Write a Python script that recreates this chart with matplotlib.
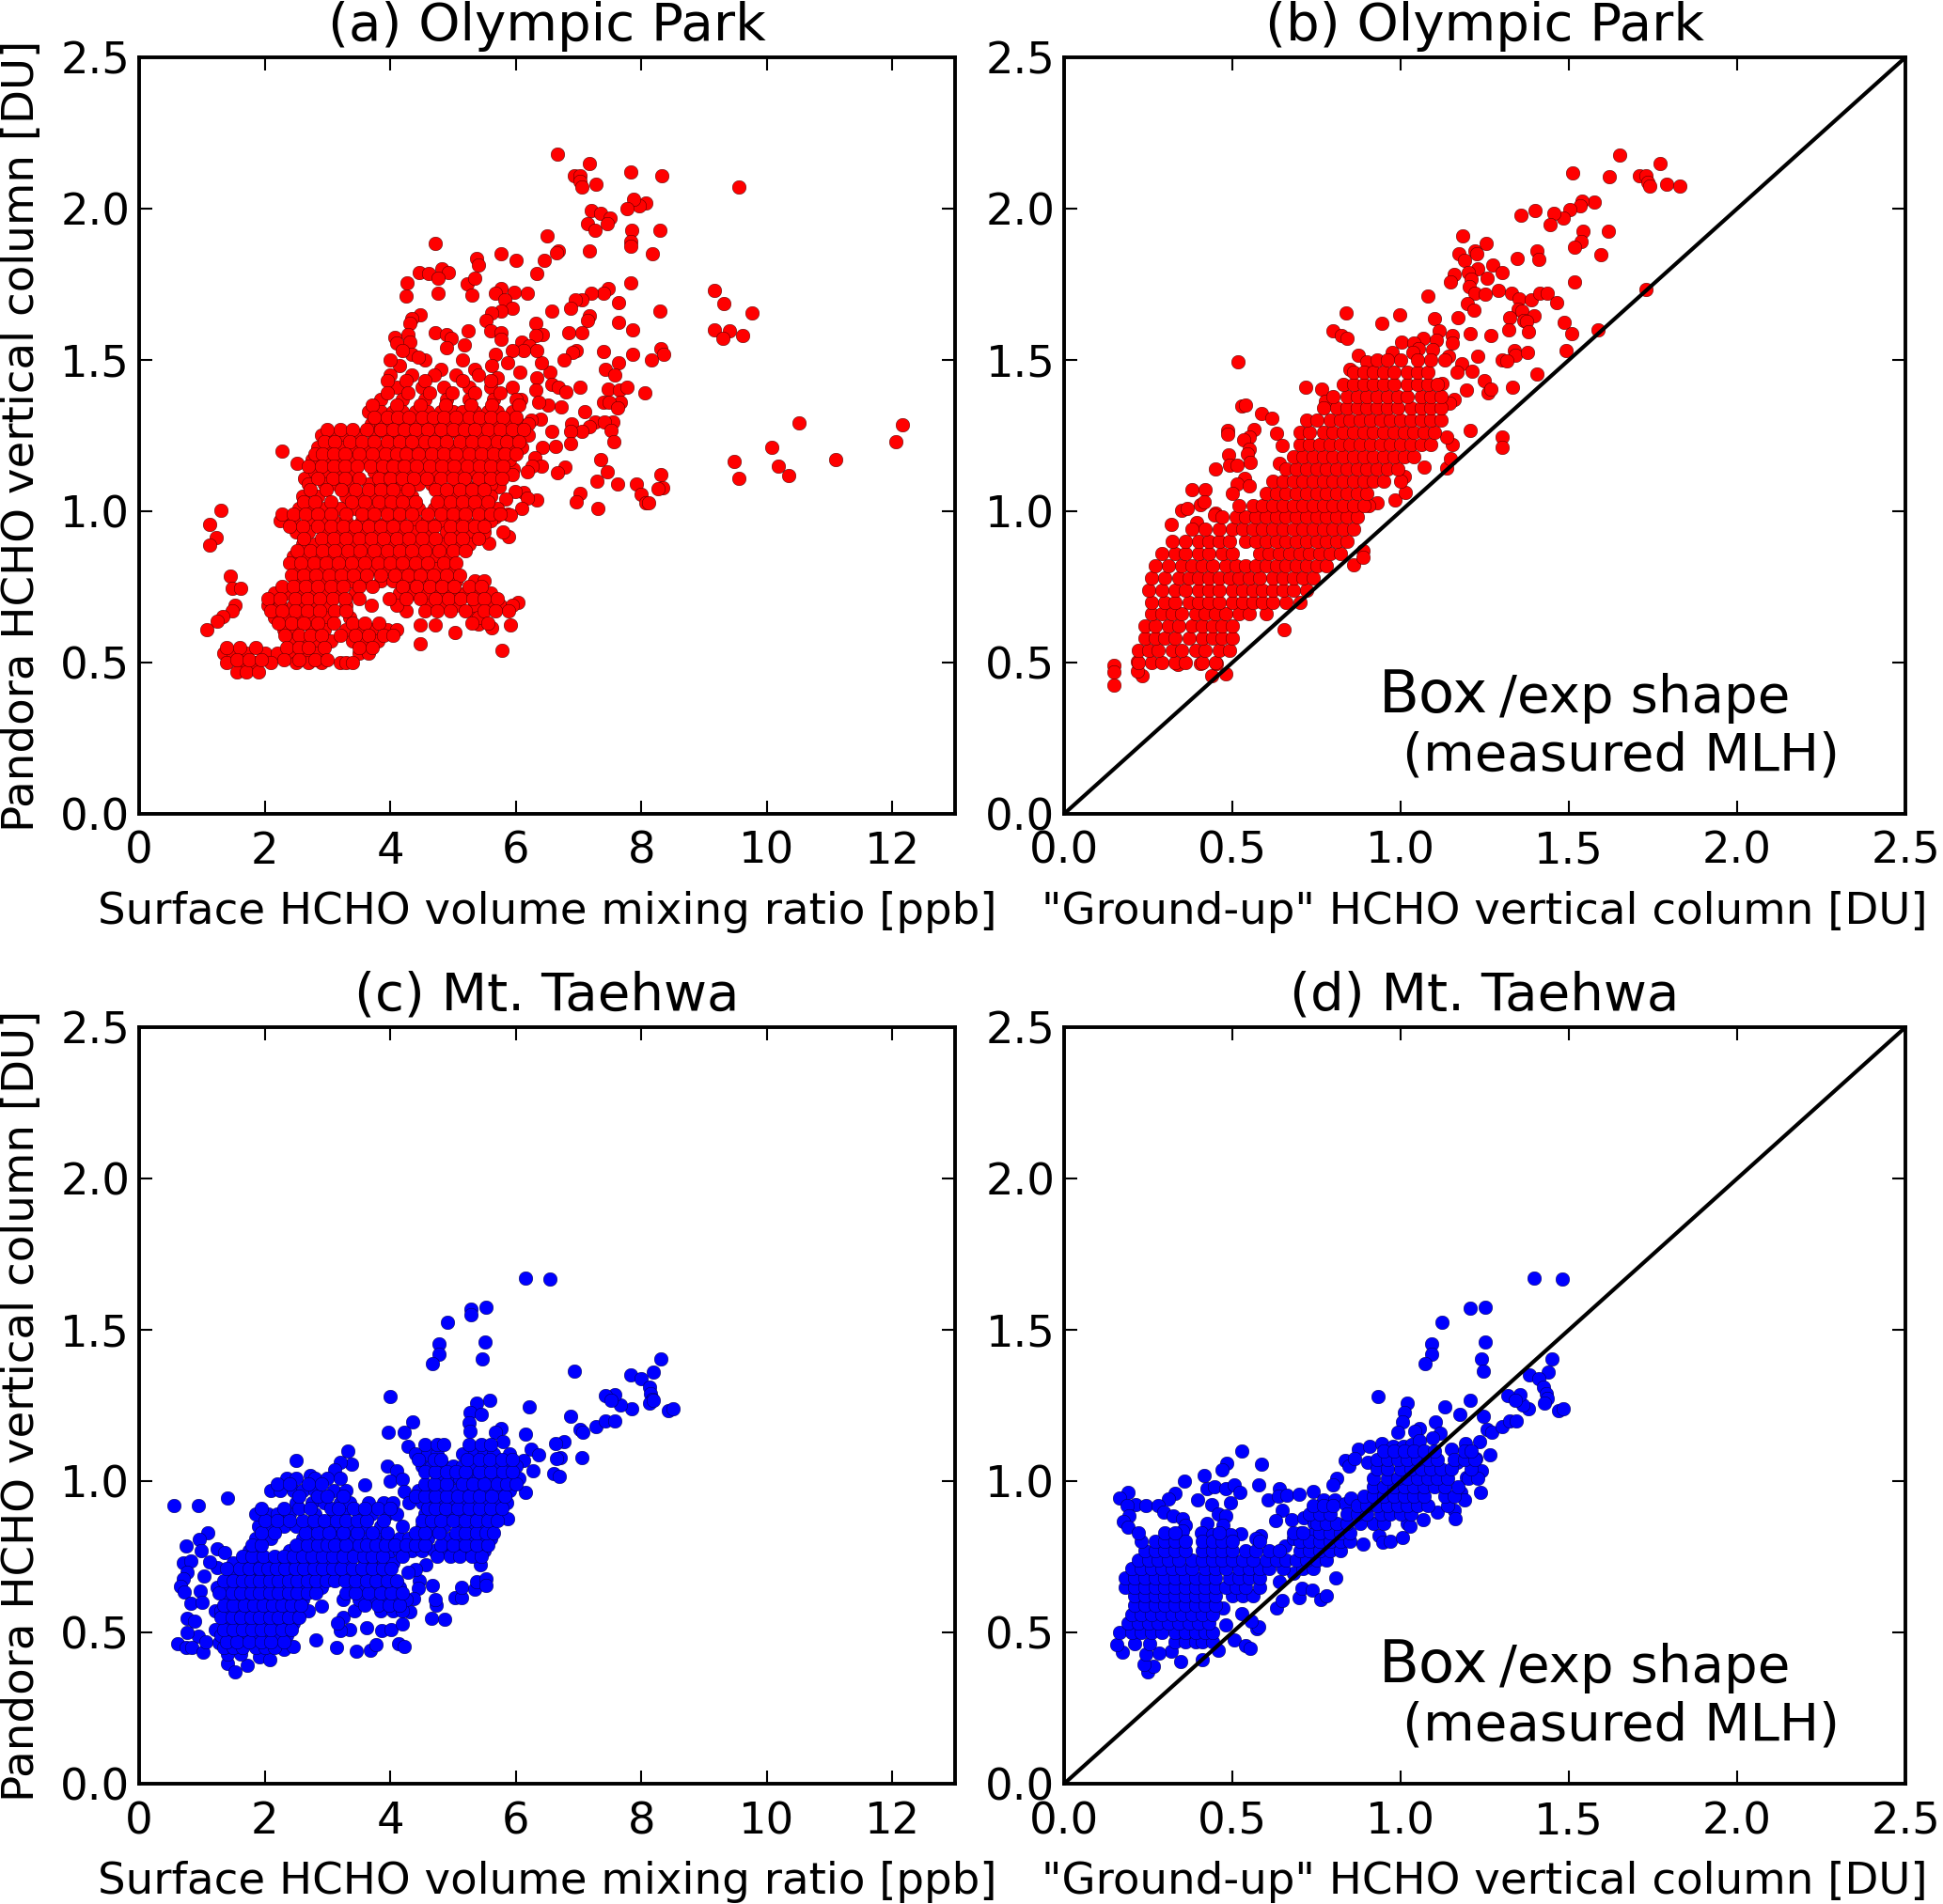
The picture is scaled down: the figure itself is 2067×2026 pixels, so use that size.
import numpy as np
import matplotlib
matplotlib.use("Agg")
import matplotlib.pyplot as plt

# values: loose points as (x, y), packed parts as rows (y, [x...])
a_loose = [(6.66,2.18),(7.18,2.15),(6.94,2.11),(7.03,2.11),(7.02,2.09),(7.05,2.07),(7.28,2.08),(7.83,2.12),(8.32,2.11),(9.56,2.07),
(8.07,2.02),(7.96,2.01),(7.87,2.03),(7.77,2.0),(7.21,1.995),(7.35,1.985),(7.5,1.97),(7.14,1.95),(7.26,1.93),(7.45,1.95),
(7.84,1.93),(8.3,1.93),(7.83,1.89),(7.83,1.875),(6.5,1.91),(6.68,1.86),(6.65,1.855),(7.17,1.86),(8.18,1.85),(4.72,1.885),
(5.38,1.835),(5.41,1.815),(5.77,1.85),(6.0,1.83),(6.45,1.83),(6.33,1.785),(7.83,1.755),(4.46,1.79),(4.61,1.785),(4.82,1.80),
(4.92,1.79),(4.76,1.77),(4.27,1.755),(4.25,1.71),(4.76,1.72),(5.23,1.75),(5.34,1.77),(5.3,1.715),(5.76,1.735),(5.67,1.72),
(5.98,1.725),(6.19,1.72),(5.82,1.70),(7.47,1.735),(7.4,1.72),(7.21,1.72),(7.06,1.70),(6.95,1.70),(7.64,1.69),(6.87,1.67),
(6.57,1.66),(8.3,1.66),(5.94,1.67),(5.76,1.66),(5.61,1.655),(9.16,1.73),(9.31,1.685),(9.76,1.655),(9.17,1.60),(9.41,1.595),
(9.3,1.57),(9.62,1.58),(4.47,1.65),(4.35,1.635),(4.32,1.62),(5.52,1.63),(7.18,1.645),(7.15,1.63),(7.63,1.625),(6.32,1.62),
(7.86,1.60),(6.85,1.59),(7.06,1.59),(6.43,1.585),(6.32,1.58),(5.6,1.595),(5.24,1.597),(5.77,1.59),(4.71,1.59),(4.89,1.585),
(4.97,1.57),(4.89,1.54),(5.18,1.55),(4.28,1.585),(4.08,1.575),(4.31,1.56),(4.11,1.555),(5.76,1.567),(6.1,1.56),(6.22,1.547),
(8.31,1.537),(8.36,1.517),(8.16,1.5),(7.86,1.517),(7.39,1.527),(6.96,1.53),(6.9,1.525),(6.77,1.5),(7.63,1.49),(7.42,1.47),
(7.57,1.45),(6.55,1.46),(6.41,1.49),(6.33,1.53),(6.12,1.53),(5.94,1.532),(5.67,1.52),(5.62,1.48),(5.87,1.49),(6.07,1.46),
(6.34,1.44),(6.32,1.40),(6.57,1.42),(6.68,1.41),(6.8,1.395),(7.03,1.41),(7.47,1.405),(7.65,1.40),(7.77,1.41),(8.06,1.39),
(7.67,1.36),(7.39,1.36),(7.48,1.36),(7.62,1.34),(7.1,1.33),(6.72,1.345),(6.52,1.35),(6.36,1.36),(6.08,1.37),(7.27,1.295),
(7.54,1.295),(7.41,1.295),(6.89,1.29),(7.17,1.28),(7.06,1.265),(6.87,1.263),(7.51,1.268),(7.56,1.23),(6.87,1.223),(6.58,1.265),
(6.64,1.215),(6.42,1.21),(6.39,1.305),(6.25,1.30),(10.51,1.293),(12.16,1.286),(12.06,1.23),(10.08,1.21),(9.48,1.165),(10.19,1.148),
(11.09,1.17),(10.34,1.118),(9.55,1.108),(7.36,1.17),(7.46,1.13),(7.29,1.10),(7.62,1.09),(7.92,1.09),(8.31,1.12),(8.34,1.077),
(8.26,1.075),(7.99,1.055),(7.03,1.06),(6.96,1.03),(8.07,1.027),(8.12,1.027),(7.31,1.01),(6.79,1.146),(6.67,1.128),(6.31,1.176),
(6.41,1.15),(6.26,1.148),(6.18,1.13),(5.96,1.14),(5.94,1.12),(6.34,1.037),(6.13,1.063),(5.99,1.065),(6.19,1.043),(6.09,1.01),
(5.84,1.04),(5.73,1.08),(5.87,0.99),(5.92,0.987),(5.67,0.98),(5.88,0.915),(5.8,0.93),(5.57,0.893),(5.29,0.93),
(1.3,1.003),(1.13,0.957),(1.23,0.912),(1.12,0.888),(2.28,1.2),(2.51,1.158),(2.63,1.11),(1.46,0.784),(1.48,0.745),(1.62,0.745),
(1.53,0.69),(1.49,0.672),(1.34,0.652),(1.24,0.635),(1.08,0.607),(5.78,0.54),(5.03,0.60),(4.72,0.624),(4.48,0.624),(4.48,0.562),
(4.25,0.67),(6.03,0.697),(5.91,0.624),(5.62,0.615),(5.41,0.627),(5.38,0.654),
(4.15,1.48),(4.55,1.5),(4.0,1.5),(5.15,1.5),(5.35,1.47),(4.8,1.47),(5.7,1.44),(4.35,1.52),(4.2,1.53),(4.45,1.51)]

a_rows = [(1.45,[4.0,4.35,4.7,5.05,5.4]),
(1.41,[4.1,4.5,4.85,5.25,5.6,5.95]),
(1.37,[3.85,4.2,4.55,4.9,5.25,5.65,6.0]),
(1.33,[3.65,3.85,4.05,4.2,4.4,4.6,4.8,5.0,5.15,5.35,5.55,5.7,5.95]),
(1.29,[3.7,3.85,4.0,4.2,4.4,4.55,4.75,4.95,5.15,5.3,5.5,5.7,5.9,6.05,6.2]),
(1.25,[2.9,3.1,3.3,3.5,3.75,3.95,4.15,4.3,4.5,4.7,4.9,5.1,5.25,5.45,5.65,5.85,6.05,6.2]),
(1.21,[2.85,3.05,3.2,3.45,3.65,3.85,4.05,4.25,4.45,4.6,4.8,5.0,5.2,5.4,5.6,5.75,5.95,6.1]),
(1.17,[2.75,3.0,3.15,3.35,3.55,3.8,4.0,4.15,4.35,4.55,4.75,4.95,5.15,5.35,5.5,5.75,5.9]),
(1.13,[2.8,3.0,3.2,3.4,3.75,3.9,4.1,4.3,4.5,4.7,4.9,5.1,5.3,5.5,5.7]),
(1.09,[2.7,2.95,3.15,3.35,3.65,3.85,4.05,4.2,4.45,4.65,5.05,5.2,5.4,5.6]),
(1.05,[2.6,2.85,3.3,3.55,3.75,3.95,4.15,4.35,4.8,5.0,5.2,5.4,5.6]),
(1.01,[2.55,2.75,2.95,3.2,3.45,3.65,3.85,4.05,4.25,4.45,4.7,4.9,5.1,5.3,5.5,5.7]),
(0.97,[2.25,2.45,2.7,2.9,3.1,3.3,3.55,3.75,3.95,4.15,4.4,4.6,4.8,5.0,5.2,5.4,5.6]),
(0.93,[2.5,2.7,3.0,3.2,3.4,3.6,3.8,4.0,4.2,4.4,4.6,4.9,5.1,5.3,5.5]),
(0.89,[2.6,2.8,3.0,3.2,3.4,3.6,3.8,4.0,4.2,4.4,4.6,4.85,5.05,5.25]),
(0.85,[2.45,2.65,2.85,3.05,3.25,3.45,3.7,3.9,4.1,4.3,4.5,4.7,4.95]),
(0.81,[2.5,2.7,2.9,3.1,3.3,3.5,3.7,3.95,4.15,4.35,4.55,4.75,5.0]),
(0.77,[2.55,2.75,2.95,3.15,3.35,3.6,3.85,4.05,4.25,4.45,4.65,4.85,5.05,5.35,5.5]),
(0.73,[2.15,2.35,2.55,2.75,2.95,3.15,3.45,4.15,4.35,4.6,4.8,5.0,5.2,5.4,5.6]),
(0.69,[2.05,2.25,2.45,2.65,2.85,3.0,3.3,3.7,4.1,4.6,4.85,5.05,5.35,5.6,5.75,5.95]),
(0.65,[2.15,2.35,2.55,2.75,2.95,3.35,5.4]),
(0.61,[2.3,2.5,2.75,2.95,3.3,3.5,3.7,3.95,4.1]),
(0.57,[2.4,2.6,2.8,3.05,3.4,3.6,3.8]),
(0.53,[1.35,1.5,1.7,2.0,2.2,2.45,2.65,2.85,3.5,3.65]),
(0.50,[1.4,1.6,1.85,2.1,2.5,2.7,2.9,3.2,3.3,3.4]),
(0.47,[1.55,1.7,1.9])]

# rows between the rows above, the blob is more solid than one set of rows gives
a_between = [(1.43,[3.95,4.25,4.55,5.15,5.6]),
(1.39,[3.95,4.28,4.62,4.98,5.35,5.75]),
(1.35,[3.72,4.1,4.48,4.88,5.28,5.62,6.05]),
(1.31,[3.75,3.95,4.12,4.3,4.5,4.68,4.85,5.05,5.25,5.42,5.6,5.8,6.0]),
(1.27,[3.0,3.2,3.4,3.62,3.85,4.05,4.22,4.4,4.6,4.8,5.0,5.18,5.35,5.55,5.75,5.95,6.12]),
(1.23,[2.95,3.12,3.35,3.55,3.75,3.95,4.15,4.35,4.55,4.7,4.9,5.1,5.3,5.5,5.7,5.85,6.05]),
(1.19,[2.8,2.92,3.1,3.28,3.5,3.72,3.92,4.1,4.25,4.45,4.65,4.85,5.05,5.25,5.45,5.65,5.82,6.0]),
(1.15,[2.7,2.9,3.1,3.28,3.48,3.68,3.88,4.05,4.22,4.42,4.62,4.82,5.02,5.22,5.42,5.6,5.8]),
(1.11,[2.85,3.08,3.28,3.5,3.82,4.0,4.2,4.38,4.58,4.8,5.0,5.18,5.4,5.6,5.78]),
(1.07,[2.72,2.98,3.22,3.45,3.65,3.85,4.05,4.28,4.72,4.9,5.1,5.3,5.5]),
(1.03,[2.62,2.8,3.05,3.38,3.6,3.82,4.02,4.2,4.4,4.75,4.95,5.15,5.35,5.55]),
(0.99,[2.28,2.45,2.65,2.85,3.05,3.3,3.55,3.75,3.95,4.15,4.35,4.6,4.8,5.0,5.2,5.4,5.6,5.75]),
(0.95,[2.4,2.6,2.85,3.05,3.25,3.45,3.65,3.85,4.05,4.25,4.5,4.7,4.95,5.15,5.35,5.5]),
(0.91,[2.62,2.9,3.1,3.3,3.5,3.7,3.9,4.1,4.3,4.5,4.72,4.95,5.15,5.4]),
(0.87,[2.52,2.72,2.92,3.12,3.32,3.52,3.75,3.95,4.15,4.35,4.55,4.78,5.0,5.2]),
(0.83,[2.4,2.58,2.78,2.98,3.18,3.38,3.6,3.8,4.0,4.2,4.4,4.6,4.85,5.05]),
(0.79,[2.42,2.62,2.82,3.02,3.22,3.42,3.62,3.85,4.08,4.28,4.48,4.68,4.9,5.1]),
(0.75,[2.28,2.45,2.65,2.85,3.05,3.25,3.5,3.72,4.2,4.42,4.62,4.82,5.02,5.25,5.45]),
(0.71,[2.05,2.25,2.48,2.68,2.88,3.08,3.28,3.5,3.98,4.25,4.48,4.72,4.92,5.12,5.32,5.5,5.7]),
(0.67,[2.1,2.28,2.48,2.68,2.88,3.12,3.3,4.55,4.75,4.95,5.2,5.5,5.68,5.88]),
(0.63,[2.22,2.42,2.62,2.85,3.1,3.4,3.6,3.82,5.3,5.55]),
(0.59,[2.32,2.55,2.72,2.9,3.2,3.45,3.65,3.9,4.05]),
(0.55,[1.4,1.6,1.85,2.35,2.55,2.7,2.95,3.5,3.72]),
(0.51,[1.55,1.75,1.95,2.3,2.55,2.8,3.0])]

b_loose = [(1.65,2.177),(1.77,2.148),(1.51,2.118),(1.62,2.107),(1.71,2.11),(1.73,2.108),(1.734,2.087),(1.74,2.073),(1.79,2.08),(1.83,2.073),
(1.575,2.023),(1.538,2.025),(1.533,2.01),(1.503,1.998),(1.482,1.97),(1.454,1.985),(1.444,1.946),(1.4,1.995),(1.358,1.977),(1.542,1.925),
(1.618,1.925),(1.537,1.89),(1.516,1.873),(1.595,1.848),(1.185,1.91),(1.255,1.886),(1.22,1.86),(1.227,1.85),(1.173,1.85),(1.19,1.83),
(1.405,1.86),(1.41,1.832),(1.346,1.836),(1.273,1.815),(1.3,1.79),(1.229,1.80),(1.158,1.784),(1.2,1.788),(1.147,1.757),(1.21,1.766),
(1.257,1.77),(1.203,1.743),(1.516,1.757),(1.22,1.72),(1.25,1.717),(1.29,1.729),(1.33,1.72),(1.353,1.702),(1.387,1.70),(1.412,1.72),
(1.436,1.72),(1.464,1.69),(1.082,1.71),(1.198,1.685),(1.217,1.665),(1.73,1.734),(1.35,1.667),(1.36,1.66),(1.324,1.64),(1.395,1.645),
(1.366,1.63),(1.374,1.627),(1.485,1.624),(1.38,1.592),(1.32,1.6),(1.587,1.60),(1.507,1.586),(1.268,1.58),(1.206,1.586),(1.17,1.64),
(1.10,1.636),(0.997,1.65),(0.837,1.656),(0.943,1.62),(0.80,1.597),(0.825,1.58),(0.84,1.572),(1.114,1.597),(1.154,1.58),(1.003,1.558),
(1.067,1.572),(1.106,1.565),(1.152,1.556),(1.04,1.555),(1.052,1.538),(0.975,1.526),(1.036,1.526),(1.095,1.533),(1.142,1.512),(1.23,1.513),
(1.337,1.53),(1.34,1.515),(1.377,1.524),(1.49,1.53),(1.30,1.5),(1.314,1.497),(1.18,1.487),(1.168,1.458),(1.212,1.462),(1.404,1.453),
(1.248,1.431),(1.333,1.41),(1.196,1.40),(1.26,1.392),(1.268,1.403),(1.124,1.422),(1.158,1.37),(1.145,1.358),(0.516,1.495),(0.873,1.515),
(0.90,1.494),(0.848,1.47),(0.717,1.41),(0.765,1.403),(0.775,1.362),(0.528,1.348),(0.54,1.351),(0.585,1.323),(0.618,1.306),(0.485,1.266),
(0.485,1.253),(0.564,1.27),(0.55,1.244),(0.533,1.237),(0.63,1.257),(0.649,1.216),(0.55,1.205),(0.544,1.19),(0.489,1.185),(0.554,1.162),
(0.639,1.157),(0.492,1.153),(0.513,1.153),(0.45,1.139),(0.536,1.11),(0.515,1.089),(0.55,1.084),(0.38,1.07),(0.418,1.07),(0.50,1.06),
(0.405,1.021),(0.415,1.03),(0.35,1.004),(0.366,1.009),(0.45,0.995),(0.448,0.986),(0.394,0.964),(0.319,0.955),(0.652,0.608),(0.86,0.824),
(0.889,0.87),(0.889,0.847),(0.931,1.027),(0.904,1.02),(0.984,1.036),(1.013,1.062),(1.01,1.116),(1.07,1.146),(1.136,1.143),(1.147,1.173),
(1.206,1.266),(1.154,1.221),(1.137,1.244),(1.30,1.244),(1.30,1.21),(0.149,0.492),(0.149,0.47),(0.149,0.424),(0.438,0.456),(0.48,0.462),
(0.232,0.455),(0.219,0.472),(0.219,0.503),(0.338,0.494),(0.404,0.496),(0.453,0.496)]

b_rows = [(0.50,[0.22,0.26,0.29,0.33,0.36,0.41,0.45]),
(0.54,[0.22,0.25,0.28,0.32,0.35,0.39,0.42,0.46,0.49]),
(0.58,[0.24,0.27,0.30,0.33,0.37,0.41,0.44,0.47,0.50]),
(0.62,[0.24,0.27,0.31,0.34,0.38,0.41,0.44,0.47,0.50]),
(0.66,[0.26,0.29,0.32,0.35,0.39,0.42,0.45,0.48,0.52,0.55,0.60]),
(0.70,[0.26,0.30,0.33,0.37,0.40,0.43,0.46,0.50,0.53,0.56,0.59,0.62,0.66,0.70]),
(0.74,[0.25,0.29,0.33,0.36,0.40,0.43,0.46,0.50,0.53,0.56,0.59,0.62,0.65,0.68,0.72]),
(0.78,[0.26,0.30,0.34,0.37,0.40,0.43,0.46,0.49,0.52,0.55,0.58,0.62,0.65,0.68,0.71,0.74]),
(0.82,[0.27,0.31,0.35,0.38,0.41,0.44,0.48,0.51,0.54,0.57,0.60,0.63,0.66,0.69,0.72,0.75,0.78]),
(0.86,[0.29,0.33,0.36,0.40,0.43,0.47,0.50,0.58,0.61,0.64,0.67,0.70,0.73,0.76,0.79,0.82]),
(0.90,[0.32,0.36,0.40,0.43,0.46,0.49,0.54,0.57,0.60,0.63,0.66,0.69,0.72,0.75,0.78,0.81,0.84]),
(0.94,[0.38,0.42,0.46,0.50,0.53,0.56,0.59,0.62,0.65,0.68,0.71,0.74,0.77,0.80,0.83,0.86]),
(0.98,[0.47,0.51,0.54,0.57,0.60,0.63,0.66,0.69,0.72,0.75,0.78,0.81,0.84,0.87]),
(1.02,[0.52,0.56,0.59,0.62,0.65,0.68,0.71,0.74,0.77,0.80,0.83,0.86,0.89]),
(1.06,[0.60,0.63,0.66,0.69,0.72,0.75,0.78,0.81,0.84,0.87,0.90]),
(1.10,[0.62,0.65,0.68,0.71,0.74,0.77,0.80,0.83,0.86,0.89,0.92,0.95,1.0]),
(1.14,[0.66,0.69,0.72,0.75,0.78,0.81,0.84,0.87,0.90,0.93,0.96,0.99]),
(1.18,[0.68,0.71,0.74,0.77,0.80,0.83,0.86,0.89,0.92,0.95,0.98,1.01,1.04]),
(1.22,[0.70,0.73,0.76,0.79,0.82,0.85,0.88,0.91,0.94,0.97,1.0,1.03,1.06,1.09]),
(1.26,[0.70,0.73,0.77,0.80,0.83,0.86,0.89,0.92,0.95,0.98,1.01,1.04,1.07,1.10]),
(1.30,[0.72,0.75,0.79,0.82,0.85,0.88,0.91,0.94,0.97,1.0,1.03,1.06,1.09,1.12]),
(1.34,[0.77,0.81,0.84,0.87,0.90,0.93,0.96,0.99,1.03,1.06,1.09,1.12]),
(1.38,[0.80,0.84,0.87,0.90,0.93,0.96,0.99,1.02,1.06,1.09,1.12]),
(1.42,[0.83,0.86,0.89,0.92,0.95,0.98,1.02,1.05,1.08,1.11]),
(1.46,[0.86,0.89,0.92,0.95,0.98,1.02,1.05,1.08]),
(1.50,[0.93,0.96,1.0,1.05,1.09,1.13])]

c_loose = [(6.16,1.67),(6.54,1.667),(5.52,1.575),(5.28,1.568),(5.29,1.55),(4.91,1.524),(4.77,1.452),(4.77,1.418),(4.67,1.387),(5.51,1.46),
(5.46,1.405),(8.31,1.404),(8.19,1.36),(6.93,1.362),(7.83,1.35),(8.0,1.34),(8.13,1.31),(8.15,1.29),(8.18,1.27),(8.13,1.257),
(8.19,1.266),(8.43,1.232),(8.5,1.24),(7.84,1.24),(7.67,1.25),(7.57,1.285),(7.42,1.282),(7.51,1.266),(6.22,1.244),(5.59,1.267),
(5.38,1.258),(5.27,1.228),(5.45,1.22),(5.26,1.194),(5.27,1.165),(4.0,1.28),(4.36,1.195),(3.97,1.16),(4.23,1.16),(4.28,1.114),
(6.88,1.214),(7.28,1.181),(7.43,1.2),(7.57,1.199),(7.02,1.17),(7.07,1.163),(6.15,1.156),(5.77,1.173),(5.67,1.162),(6.77,1.13),
(6.64,1.124),(5.8,1.13),(6.25,1.104),(6.37,1.087),(7.06,1.078),(6.71,1.078),(6.65,1.076),(6.61,1.025),(6.7,1.016),(6.27,1.033),
(6.12,1.068),(6.16,0.963),(5.87,0.877),(3.32,1.1),(2.5,1.068),(3.38,1.057),(3.21,1.062),(3.11,1.038),(2.72,1.02),(3.59,0.986),
(3.96,1.05),(4.11,1.034),(4.0,1.0),(4.2,1.005),(4.22,0.966),(0.55,0.92),(0.95,0.918),(1.41,0.944),(1.09,0.83),(0.96,0.806),
(0.75,0.787),(0.99,0.77),(1.25,0.775),(1.37,0.765),(0.7,0.73),(0.82,0.737),(0.76,0.70),(1.04,0.687),(1.24,0.715),(1.12,0.734),
(0.7,0.677),(0.66,0.652),(0.72,0.633),(0.97,0.638),(0.82,0.595),(1.01,0.60),(0.76,0.548),(0.89,0.538),(1.21,0.57),(1.21,0.509),
(0.94,0.487),(0.76,0.5),(0.62,0.462),(0.75,0.449),(0.84,0.449),(1.02,0.434),(1.06,0.468),(1.27,0.465),(1.41,0.396),(1.52,0.37),
(1.72,0.392),(1.62,0.428),(1.92,0.418),(2.08,0.411),(1.41,0.43),(2.3,0.445),(2.46,0.453),(2.81,0.475),(3.14,0.45),(3.46,0.438),
(3.68,0.44),(3.77,0.458),(4.14,0.463),(4.23,0.454),(3.35,0.51),(3.21,0.506),(3.63,0.515),(3.87,0.506),(4.02,0.51),(4.19,0.529),
(4.66,0.548),(4.86,0.544),(4.73,0.59),(4.72,0.608),(5.03,0.614),(5.13,0.614),(5.13,0.648),(5.35,0.642),(5.37,0.668),(5.53,0.677),
(5.52,0.656),(5.43,0.725),(4.67,0.656),(4.57,0.724),(4.46,0.67),(4.45,0.645),(4.38,0.611),(4.32,0.567),(4.4,0.708),(4.29,0.7),
(3.25,0.55),(3.16,0.532),(3.43,0.572),(3.25,0.608),(2.9,0.586),(2.69,0.57)]

c_rows = [(0.45,[1.35,1.5,1.65,1.85,2.0,2.15]),
(0.49,[1.3,1.45,1.6,1.75,1.9,2.05,2.2,2.35]),
(0.53,[1.4,1.55,1.7,1.85,2.0,2.15,2.3,2.45]),
(0.57,[1.3,1.45,1.6,1.75,1.9,2.05,2.2,2.35,2.5,3.85,4.05,4.2]),
(0.61,[1.4,1.55,1.7,1.85,2.0,2.15,2.3,2.45,2.6,3.5,3.7,3.9,4.1,4.25]),
(0.65,[1.25,1.4,1.55,1.7,1.85,2.0,2.15,2.3,2.45,2.6,2.75,2.9,3.35,3.55,3.75,3.95,4.15]),
(0.69,[1.5,1.65,1.8,1.95,2.1,2.25,2.4,2.55,2.7,2.85,3.0,3.15,3.3,3.5,3.65,3.8,3.95]),
(0.73,[1.5,1.7,1.85,2.0,2.2,2.35,2.5,2.65,2.8,3.0,3.15,3.3,3.6,3.75,3.9,4.05]),
(0.77,[1.75,1.9,2.4,2.55,2.75,2.9,3.05,3.2,3.4,3.55,3.7,3.85,4.0,4.15,4.35,4.5,4.7,4.85,5.0,5.15,5.3,5.5]),
(0.81,[1.85,2.0,2.1,2.6,2.75,2.95,3.15,3.3,3.45,3.65,3.8,3.95,4.15,4.3,4.45,4.6,4.95,5.1,5.25,5.45,5.6]),
(0.85,[1.9,2.1,2.3,2.5,2.7,2.85,3.05,3.2,3.4,3.55,3.85,4.2,4.5,4.7,4.85,5.1,5.3,5.45,5.6]),
(0.89,[1.85,2.05,2.2,2.4,2.8,3.1,3.25,3.5,3.7,3.95,4.1,4.55,4.75,4.95,5.15,5.3,5.5,5.65]),
(0.93,[2.5,2.75,2.95,3.2,3.35,3.65,3.9,4.05,4.3,4.5,4.65,4.8,5.0,5.15,5.35,5.5,5.7,5.85]),
(0.97,[2.1,2.25,2.45,2.6,2.8,3.1,3.3,4.45,4.6,4.8,5.05,5.2,5.4,5.6,5.75,5.9]),
(1.01,[2.35,2.5,2.8,3.0,3.2,4.75,4.95,5.1,5.25,5.4,5.55,5.75,5.9,6.05]),
(1.05,[4.5,4.65,4.85,5.0,5.15,5.35,5.5,5.7,5.85,6.0]),
(1.09,[4.4,4.6,4.75,5.15,5.35,5.5,5.65,5.9]),
(1.12,[4.55,4.75,4.85,5.25,5.45,5.6])]

c_between = [(0.47,[1.4,1.55,1.75,1.95,2.1,2.3]),
(0.51,[1.35,1.5,1.65,1.8,1.95,2.1,2.28,2.42]),
(0.55,[1.3,1.48,1.62,1.78,1.92,2.08,2.22,2.38,2.55]),
(0.59,[1.35,1.5,1.68,1.82,1.98,2.12,2.28,2.42,2.58,3.6,3.8,3.98,4.15]),
(0.63,[1.28,1.48,1.62,1.78,1.92,2.08,2.22,2.38,2.52,2.68,2.82,3.3,3.45,3.65,3.85,4.02,4.2]),
(0.67,[1.35,1.5,1.65,1.78,1.92,2.08,2.22,2.38,2.52,2.68,2.82,2.98,3.12,3.28,3.45,3.62,3.78,3.95,4.1]),
(0.71,[1.4,1.6,1.75,1.92,2.05,2.18,2.32,2.48,2.62,2.78,2.92,3.08,3.22,3.4,3.55,3.72,3.88,4.02]),
(0.75,[1.65,1.8,1.98,2.15,2.3,2.45,2.6,2.75,2.92,3.08,3.25,3.42,3.58,3.72,3.88,4.2,4.75,4.95,5.1,5.3,5.45]),
(0.79,[1.8,1.95,2.5,2.68,2.85,3.0,3.12,3.3,3.5,3.62,3.78,3.92,4.08,4.25,4.4,4.55,4.8,5.0,5.2,5.38,5.55]),
(0.83,[1.95,2.15,2.65,2.85,3.02,3.25,3.48,3.72,3.95,4.4,4.55,4.78,5.05,5.2,5.38,5.52,5.65]),
(0.87,[2.0,2.2,2.4,2.6,2.78,2.95,3.15,3.3,3.48,3.62,3.9,4.5,4.65,4.8,5.0,5.2,5.38,5.55,5.7]),
(0.91,[1.95,2.3,2.55,2.72,3.05,3.18,3.42,3.6,3.8,4.0,4.6,4.72,4.88,5.08,5.25,5.42,5.6,5.78]),
(0.95,[2.55,2.85,3.0,3.25,4.4,4.55,4.72,4.9,5.08,5.25,5.42,5.62,5.82]),
(0.99,[2.2,2.4,2.7,2.9,4.55,4.7,4.9,5.15,5.32,5.5,5.7,5.85,6.0]),
(1.03,[4.55,4.72,4.9,5.05,5.2,5.42,5.6,5.8,5.95]),
(1.07,[4.45,4.7,4.8,5.22,5.42,5.58,5.78,5.95])]

d_loose = [(1.395,1.67),(1.48,1.667),(1.207,1.57),(1.252,1.575),(1.124,1.524),(1.092,1.452),(1.092,1.418),(1.073,1.387),(1.252,1.46),(1.241,1.405),
(1.246,1.363),(1.45,1.404),(1.438,1.36),(1.383,1.35),(1.41,1.34),(1.425,1.31),(1.433,1.29),(1.436,1.272),(1.428,1.257),(1.47,1.232),
(1.483,1.24),(1.381,1.24),(1.362,1.253),(1.354,1.285),(1.318,1.282),(1.34,1.268),(0.933,1.28),(1.02,1.258),(1.012,1.228),(1.005,1.196),
(0.99,1.163),(1.13,1.244),(1.175,1.222),(1.207,1.266),(1.246,1.215),(1.104,1.195),(1.056,1.173),(1.043,1.165),(1.117,1.157),(1.096,1.142),
(1.257,1.17),(1.272,1.163),(1.3,1.181),(1.323,1.2),(1.343,1.199),(1.233,1.13),(1.192,1.125),(1.151,1.104),(1.167,1.063),(1.266,1.086),
(1.222,1.076),(1.241,1.035),(1.238,0.963),(1.194,1.013),(1.178,0.962),(1.189,0.937),(1.16,0.905),(1.163,0.877),(1.108,0.899),(1.067,0.873),
(0.528,1.1),(0.484,1.06),(0.47,1.038),(0.585,1.057),(0.578,0.986),(0.358,1.0),(0.415,1.019),(0.33,0.961),(0.311,0.94),(0.19,0.962),
(0.165,0.944),(0.212,0.921),(0.244,0.92),(0.278,0.918),(0.187,0.918),(0.193,0.886),(0.176,0.867),(0.19,0.848),(0.297,0.899),(0.325,0.886),
(0.352,0.876),(0.361,0.855),(0.352,0.835),(0.396,0.938),(0.424,0.975),(0.446,0.981),(0.479,0.975),(0.506,0.987),(0.523,0.962),(0.495,0.928),
(0.438,0.921),(0.457,0.892),(0.479,0.886),(0.473,0.854),(0.424,0.861),(0.407,0.829),(0.44,0.823),(0.526,0.827),(0.495,0.823),(0.583,0.819),
(0.57,0.81),(0.605,0.939),(0.638,0.975),(0.636,0.949),(0.662,0.952),(0.699,0.958),(0.74,0.966),(0.649,0.903),(0.629,0.871),(0.677,0.873),
(0.713,0.88),(0.743,0.886),(0.743,0.861),(0.809,1.01),(0.798,0.987),(0.836,1.067),(0.847,1.05),(0.875,1.105),(0.908,1.114),(0.944,1.123),
(0.864,1.076),(0.902,1.061),(0.977,1.114),(1.007,1.114),(1.034,1.12),(1.056,1.133),(0.77,0.937),(0.803,0.937),(0.836,0.924),(0.853,0.943),
(0.655,0.785),(0.682,0.81),(0.704,0.829),(0.737,0.823),(0.887,0.791),(0.935,0.82),(0.946,0.797),(0.968,0.8),(1.005,0.814),(1.018,0.861),
(1.029,0.851),(0.807,0.68),(0.638,0.668),(0.682,0.696),(0.699,0.614),(0.706,0.646),(0.737,0.639),(0.762,0.61),(0.779,0.62),(0.632,0.58),
(0.649,0.604),(0.572,0.513),(0.578,0.519),(0.528,0.563),(0.556,0.538),(0.479,0.525),(0.473,0.582),(0.506,0.475),(0.539,0.456),(0.554,0.448),
(0.457,0.441),(0.41,0.411),(0.347,0.405),(0.319,0.437),(0.248,0.37),(0.266,0.389),(0.237,0.395),(0.281,0.433),(0.242,0.427),(0.174,0.434),
(0.156,0.458),(0.165,0.5),(0.209,0.462),(0.253,0.462)]

d_rows = [(0.47,[0.33,0.36,0.39,0.41,0.44]),
(0.50,[0.2,0.23,0.26,0.29,0.33,0.36,0.39,0.42,0.44]),
(0.53,[0.19,0.22,0.25,0.28,0.31,0.34,0.37,0.40,0.43]),
(0.56,[0.2,0.23,0.26,0.29,0.32,0.35,0.38,0.41,0.44]),
(0.59,[0.21,0.24,0.27,0.30,0.33,0.36,0.39,0.42,0.45]),
(0.62,[0.21,0.24,0.27,0.30,0.33,0.36,0.39,0.42,0.45,0.50,0.53,0.56]),
(0.65,[0.18,0.21,0.24,0.27,0.30,0.33,0.36,0.39,0.42,0.45,0.48,0.51,0.54,0.58]),
(0.68,[0.18,0.21,0.24,0.27,0.30,0.33,0.36,0.39,0.42,0.45,0.49,0.52,0.55,0.58]),
(0.71,[0.2,0.23,0.26,0.29,0.32,0.35,0.38,0.42,0.45,0.48,0.52,0.55,0.58,0.61,0.65,0.71,0.74]),
(0.74,[0.22,0.25,0.28,0.31,0.34,0.38,0.41,0.44,0.47,0.5,0.53,0.56,0.6,0.63,0.66,0.69,0.72,0.75,0.78]),
(0.77,[0.24,0.27,0.3,0.33,0.36,0.41,0.44,0.47,0.5,0.54,0.57,0.61,0.64,0.7,0.73,0.76,0.79,0.82]),
(0.80,[0.23,0.27,0.3,0.33,0.36,0.41,0.44,0.47,0.5,0.58,0.7,0.73,0.76,0.79,0.82,0.85]),
(0.83,[0.22,0.3,0.33,0.46,0.68,0.71,0.76,0.79,0.82,0.85]),
(0.86,[0.75,0.78,0.81,0.84,0.88,0.92,0.95]),
(0.89,[0.73,0.76,0.79,0.84,0.87,0.9,0.94,0.97,1.0,1.03]),
(0.92,[0.74,0.77,0.8,0.87,0.9,0.93,0.96,0.99,1.02,1.05,1.08,1.14]),
(0.95,[0.89,0.92,0.95,0.98,1.01,1.04,1.07,1.13,1.16]),
(0.98,[0.92,0.95,0.98,1.01,1.04,1.07,1.1,1.13,1.17]),
(1.01,[0.92,0.96,0.99,1.02,1.05,1.08,1.11,1.14,1.2,1.23]),
(1.04,[0.93,0.96,1.0,1.03,1.06,1.09,1.12,1.15,1.21]),
(1.07,[0.93,0.96,0.99,1.02,1.05,1.08,1.11,1.16,1.19,1.22]),
(1.10,[0.95,0.98,1.01,1.04,1.07,1.1,1.19,1.21])]

surface_ticks = [0,2,4,6,8,10,12]
column_ticks = [0.0,0.5,1.0,1.5,2.0,2.5]
one_to_one = [0,2.5]

def points(loose, rows):
    """puts loose points and packed rows together"""
    xs = [p[0] for p in loose]
    ys = [p[1] for p in loose]
    for y, row in rows:
        xs += row
        ys += [y]*len(row)
    return xs, ys

def setup(ax, title, xlabel, xticks, xmax, ylabel=False):
    """axes look shared by the four panels"""
    ax.set_xlim(0, xmax)
    ax.set_ylim(0, 2.5)
    ax.set_xticks(xticks)
    ax.set_yticks(column_ticks)
    if xmax == 13:
        ax.set_xticklabels([str(t) for t in xticks])
    else:
        ax.set_xticklabels(["%.1f" % t for t in xticks])
    ax.set_yticklabels(["%.1f" % t for t in column_ticks])
    ax.tick_params(direction="in", top=True, right=True, length=10, width=1.5, labelsize=TICK_SIZE)
    ax.tick_params(axis="x", pad=13)
    ax.tick_params(axis="y", pad=7)
    for s in ax.spines.values():
        s.set_linewidth(2.8)
    ax.set_title(title, fontsize=TITLE_SIZE, pad=13)
    ax.set_xlabel(xlabel, fontsize=LABEL_SIZE, labelpad=14)
    if ylabel:
        ax.set_ylabel("Pandora HCHO vertical column [DU]", fontsize=LABEL_SIZE, labelpad=13)

TICK_SIZE = 33.5
LABEL_SIZE = 33.6
TITLE_SIZE = 40.5

fig = plt.figure(figsize=(20.67, 20.26), dpi=100)
ax_a = fig.add_axes([0.0716, 0.5726, 0.42, 0.3973])
ax_b = fig.add_axes([0.5477, 0.5726, 0.433, 0.3973])
ax_c = fig.add_axes([0.0716, 0.0632, 0.42, 0.3973])
ax_d = fig.add_axes([0.5477, 0.0632, 0.433, 0.3973])

surface_label = "Surface HCHO volume mixing ratio [ppb]"
column_label = '"Ground-up" HCHO vertical column [DU]'
setup(ax_a, "(a) Olympic Park", surface_label, surface_ticks, 13, True)
setup(ax_b, "(b) Olympic Park", column_label, column_ticks, 2.5)
setup(ax_c, "(c) Mt. Taehwa", surface_label, surface_ticks, 13, True)
setup(ax_d, "(d) Mt. Taehwa", column_label, column_ticks, 2.5)

for ax, loose, rows, col in [(ax_a, a_loose, a_rows + a_between, "red"), (ax_b, b_loose, b_rows, "red"),
                             (ax_c, c_loose, c_rows + c_between, "blue"), (ax_d, d_loose, d_rows, "blue")]:
    xs, ys = points(loose, rows)
    ax.scatter(xs, ys, s=112, c=col, edgecolors="black", linewidths=0.25, zorder=2)

for ax in [ax_b, ax_d]:
    ax.plot(one_to_one, one_to_one, color="black", lw=3, zorder=3)
    ax.text(0.935, 0.335, "Box", fontsize=45, ha="left", va="baseline")
    ax.text(1.292, 0.335, "/exp shape", fontsize=40.5, ha="left", va="baseline")
    ax.text(1.005, 0.143, "(measured MLH)", fontsize=40.5, ha="left", va="baseline")

fig.savefig("out.png", dpi=100)
